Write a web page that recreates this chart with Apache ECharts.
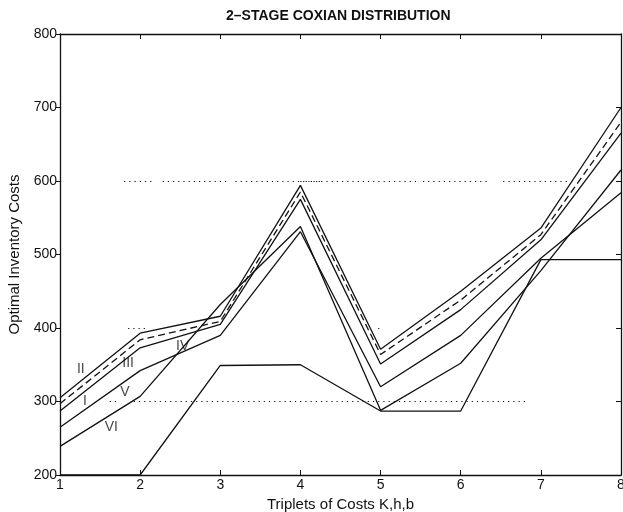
<!DOCTYPE html>
<html>
<head>
<meta charset="utf-8">
<script src="https://cdn.jsdelivr.net/npm/echarts@6/dist/echarts.min.js"></script>
<style>
  html, body { margin: 0; padding: 0; background: #fff; }
  #chart { width: 623px; height: 512px; }
</style>
</head>
<body>
<div id="chart"></div>
<script>
// triplets 1..8 on the x axis
const triplets = [1, 2, 3, 4, 5, 6, 7, 8];

// curves, top to bottom
const costII   = [305, 393, 416, 594, 371, 450, 536, 700];
const costIII  = [297, 384, 409, 585, 364, 438, 527, 680]; // dashed
const costI    = [287, 373, 405, 575, 351, 425, 520, 665];
const costV    = [265, 342, 390, 531, 320, 390, 495, 584];
const costVI   = [239, 307, 432, 538, 288, 352, 478, 615];
const costBase = [200, 200, 349, 350, 287, 287, 493, 493];

// roman numeral tags placed next to the curves
const tagX    = [1.26, 1.85, 1.31, 2.53, 1.81, 1.64];
const tagY    = [344, 352, 301, 375, 313, 265];
const tagText = ['II', 'III', 'I', 'IV', 'V', 'VI'];

// what is left of the dotted grid in the scan: [x from, x to, y]
const dotFrom = [1.8, 2.28, 3.19, 4.0, 5.53, 6.53, 7.98, 1.62, 1.92, 1.85, 4.97];
const dotTo   = [2.17, 3.09, 4.25, 5.46, 6.37, 7.33, 7.99, 1.72, 6.84, 2.07, 5.03];
const dotY    = [600, 600, 600, 600, 600, 600, 600, 300, 300, 400, 400];

const font = "'Liberation Sans', Arial, Helvetica, sans-serif";
const ink = '#111';

const chart = echarts.init(document.getElementById('chart'));

function pairs(vals) {
  return triplets.map((t, i) => [t, vals[i]]);
}

function curve(name, vals, dash) {
  return {
    name: name,
    type: 'line',
    data: pairs(vals),
    symbol: 'none',
    silent: true,
    lineStyle: { color: ink, width: 1.3, type: dash || 'solid' }
  };
}

const dotted = dotFrom.map((x, i) => [
  { coord: [x, dotY[i]] },
  { coord: [dotTo[i], dotY[i]] }
]);

const option = {
  animation: false,
  title: {
    text: '2–STAGE COXIAN DISTRIBUTION',
    left: 226,
    top: 9,
    padding: 0,
    textStyle: { fontFamily: font, fontSize: 14, fontWeight: 'bold', color: ink }
  },
  grid: { left: 60, right: 2, top: 34, bottom: 37, outerBoundsMode: 'none' },
  xAxis: [
    {
      type: 'value', min: 1, max: 8, interval: 1,
      name: 'Triplets of Costs K,h,b',
      nameLocation: 'middle',
      nameGap: 21,
      nameTextStyle: { fontFamily: font, fontSize: 15, color: ink, verticalAlign: 'top' },
      axisLine: { onZero: false, lineStyle: { color: ink, width: 1.3 } },
      axisTick: { inside: true, length: 5, lineStyle: { color: ink } },
      axisLabel: { margin: 3, fontFamily: font, fontSize: 14, color: ink },
      splitLine: { show: false }
    },
    {
      type: 'value', min: 1, max: 8, interval: 1, position: 'top',
      axisLine: { onZero: false, lineStyle: { color: ink, width: 1.3 } },
      axisTick: { inside: true, length: 5, lineStyle: { color: ink } },
      axisLabel: { show: false },
      splitLine: { show: false }
    }
  ],
  yAxis: [
    {
      type: 'value', min: 200, max: 800, interval: 100,
      name: 'Optimal Inventory Costs',
      nameLocation: 'middle',
      nameGap: 33,
      nameTextStyle: { fontFamily: font, fontSize: 15, color: ink },
      axisLine: { show: true, onZero: false, lineStyle: { color: ink, width: 1.3 } },
      axisTick: { show: true, length: 4, lineStyle: { color: ink } },
      axisLabel: { margin: 3, fontFamily: font, fontSize: 14, color: ink },
      splitLine: { show: false }
    },
    {
      type: 'value', min: 200, max: 800, interval: 100, position: 'right',
      axisLine: { show: true, onZero: false, lineStyle: { color: ink, width: 1.3 } },
      axisTick: { show: true, inside: true, length: 5, lineStyle: { color: ink } },
      axisLabel: { show: false },
      splitLine: { show: false }
    }
  ],
  series: [
    Object.assign(curve('II', costII), {
      markLine: {
        silent: true,
        symbol: 'none',
        label: { show: false },
        lineStyle: { color: ink, width: 1, type: [1.2, 4] },
        data: dotted
      }
    }),
    curve('III', costIII, [7, 4]),
    curve('I', costI),
    curve('V', costV),
    curve('VI', costVI),
    curve('base', costBase),
    {
      name: 'tags',
      type: 'scatter',
      silent: true,
      symbolSize: 1,
      itemStyle: { color: 'transparent' },
      data: tagX.map((x, i) => ({ value: [x, tagY[i]], name: tagText[i] })),
      label: {
        show: true,
        position: 'inside',
        formatter: p => p.name,
        fontFamily: font,
        fontSize: 14,
        color: ink
      }
    }
  ]
};

chart.setOption(option);
</script>
</body>
</html>
